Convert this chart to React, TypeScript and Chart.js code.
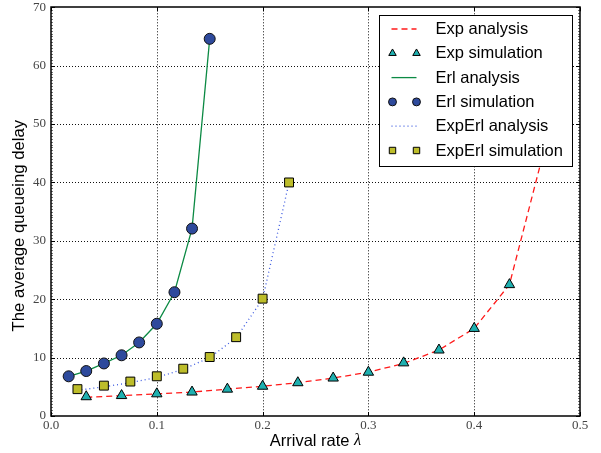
import React, { useEffect, useRef } from 'react';
import { Chart, registerables } from 'chart.js';
import { drawPoint } from 'chart.js/helpers';

Chart.register(...registerables);

// ---- data ----
const expX = [0.0333, 0.0667, 0.1, 0.1333, 0.1667, 0.2, 0.2333, 0.2667, 0.3, 0.3333, 0.3667, 0.4, 0.4333];
const expSim = [3.3, 3.5, 3.8, 4.1, 4.6, 5.1, 5.7, 6.5, 7.5, 9.1, 11.3, 15.0, 22.5];
const expAnaX = [0.0333, 0.0667, 0.1, 0.1333, 0.1667, 0.2, 0.2333, 0.2667, 0.3, 0.3333, 0.3667, 0.4, 0.4333, 0.4667];
const expAna = [3.2, 3.5, 3.8, 4.1, 4.6, 5.1, 5.7, 6.5, 7.5, 9.0, 11.3, 15.0, 22.5, 46.0];

const erlX = [0.0167, 0.0333, 0.05, 0.0667, 0.0833, 0.1, 0.1167, 0.1333, 0.15];
const erlSim = [6.8, 7.7, 9.0, 10.4, 12.6, 15.8, 21.2, 32.1, 64.6];
const erlAna = [6.8, 7.7, 9.0, 10.4, 12.6, 15.8, 21.2, 32.1, 64.6];

const expErlX = [0.025, 0.05, 0.075, 0.1, 0.125, 0.15, 0.175, 0.2, 0.225];
const expErlSim = [4.6, 5.2, 5.9, 6.8, 8.1, 10.1, 13.5, 20.1, 40.0];
const expErlAna = [4.4, 5.0, 5.7, 6.6, 8.0, 10.0, 13.4, 20.0, 40.0];

const seriesLabels = ['Exp analysis', 'Exp simulation', 'Erl analysis', 'Erl simulation', 'ExpErl analysis', 'ExpErl simulation'];
const xTitle = 'Arrival rate ';
const xTitleSymbol = 'λ';
const yTitle = 'The average queueing delay';

const xMin = 0, xMax = 0.5, xStep = 0.1;
const yMin = 0, yMax = 70, yStep = 10, yMinorStep = 0.5;

const pts = (xs: number[], ys: number[]) => xs.map((x, i) => ({ x, y: ys[i] }));

const SANS = "'Liberation Sans', Arial, sans-serif";
const SERIF = "'Liberation Serif', 'Times New Roman', serif";

const decorPlugin = {
  id: 'decor',
  beforeDatasetsDraw(chart: any) {
    const { ctx, chartArea: a, scales } = chart;
    const x = scales.x, y = scales.y;
    ctx.save();
    ctx.strokeStyle = '#111';
    ctx.lineWidth = 1;
    ctx.setLineDash([1, 2]);
    x.ticks.forEach((t: any) => {
      if (t.value <= xMin || t.value >= xMax) return;
      const px = Math.round(x.getPixelForValue(t.value)) + 0.5;
      ctx.beginPath(); ctx.moveTo(px, a.top); ctx.lineTo(px, a.bottom); ctx.stroke();
    });
    y.ticks.forEach((t: any) => {
      if (t.value <= yMin || t.value >= yMax) return;
      const py = Math.round(y.getPixelForValue(t.value)) + 0.5;
      ctx.beginPath(); ctx.moveTo(a.left, py); ctx.lineTo(a.right, py); ctx.stroke();
    });
    ctx.restore();
  },
  afterDraw(chart: any) {
    const { ctx, chartArea: a, scales } = chart;
    const x = scales.x, y = scales.y;
    ctx.save();
    ctx.setLineDash([]);
    // minor ticks on y (left/right)
    ctx.strokeStyle = '#555';
    ctx.lineWidth = 0.8;
    for (let v = yMin; v <= yMax + 1e-9; v += yMinorStep) {
      const py = Math.round(y.getPixelForValue(v)) + 0.5;
      ctx.beginPath();
      ctx.moveTo(a.left, py); ctx.lineTo(a.left + 2, py);
      ctx.moveTo(a.right, py); ctx.lineTo(a.right - 2, py);
      ctx.stroke();
    }
    // major ticks inward
    ctx.strokeStyle = '#000';
    ctx.lineWidth = 1;
    x.ticks.forEach((t: any) => {
      const px = Math.round(x.getPixelForValue(t.value)) + 0.5;
      ctx.beginPath();
      ctx.moveTo(px, a.bottom); ctx.lineTo(px, a.bottom - 4);
      ctx.moveTo(px, a.top); ctx.lineTo(px, a.top + 4);
      ctx.stroke();
    });
    y.ticks.forEach((t: any) => {
      const py = Math.round(y.getPixelForValue(t.value)) + 0.5;
      ctx.beginPath();
      ctx.moveTo(a.left, py); ctx.lineTo(a.left + 4, py);
      ctx.moveTo(a.right, py); ctx.lineTo(a.right - 4, py);
      ctx.stroke();
    });
    // frame
    ctx.lineWidth = 1.5;
    ctx.strokeStyle = '#000';
    ctx.strokeRect(Math.round(a.left), Math.round(a.top), Math.round(a.right - a.left), Math.round(a.bottom - a.top));

    // legend
    const bw = 193, bh = 151;
    const bl = Math.round(a.right - 8 - bw) + 0.5;
    const bt = Math.round(a.top + 8) + 0.5;
    ctx.fillStyle = '#fff';
    ctx.fillRect(bl, bt, bw, bh);
    ctx.lineWidth = 1;
    ctx.strokeStyle = '#000';
    ctx.strokeRect(bl, bt, bw, bh);
    ctx.font = `16.5px ${SANS}`;
    ctx.textBaseline = 'middle';
    ctx.textAlign = 'left';
    chart.data.datasets.forEach((ds: any, i: number) => {
      const ry = bt + 13.5 + i * 24.3;
      if (ds.showLine && !ds.pointRadius) {
        ctx.save();
        ctx.strokeStyle = ds.borderColor;
        ctx.lineWidth = ds.borderWidth;
        ctx.setLineDash(ds.borderDash || []);
        ctx.beginPath(); ctx.moveTo(bl + 12, ry); ctx.lineTo(bl + 37, ry); ctx.stroke();
        ctx.restore();
      } else {
        ctx.save();
        ctx.fillStyle = ds.backgroundColor;
        ctx.strokeStyle = ds.borderColor;
        ctx.lineWidth = ds.borderWidth;
        [bl + 13, bl + 37].forEach((mx) => {
          drawPoint(ctx, { pointStyle: ds.pointStyle, rotation: 0, radius: ds.pointRadius * 0.72, borderWidth: ds.borderWidth } as any, mx, ry);
        });
        ctx.restore();
      }
      ctx.fillStyle = '#000';
      ctx.fillText(ds.label, bl + 56, ry + 0.5);
    });

    // axis titles
    ctx.fillStyle = '#000';
    ctx.textBaseline = 'middle';
    const f1 = `16.5px ${SANS}`;
    const f2 = `italic 16.5px ${SERIF}`;
    ctx.font = f1;
    const w1 = ctx.measureText(xTitle).width;
    ctx.font = f2;
    const w2 = ctx.measureText(xTitleSymbol).width;
    const cx = (a.left + a.right) / 2;
    const sx = cx - (w1 + w2) / 2;
    ctx.textAlign = 'left';
    ctx.font = f1;
    ctx.fillText(xTitle, sx, 441);
    ctx.font = f2;
    ctx.fillText(xTitleSymbol, sx + w1, 441);

    ctx.save();
    ctx.translate(19, (a.top + a.bottom) / 2 + 14);
    ctx.rotate(-Math.PI / 2);
    ctx.font = `16.7px ${SANS}`;
    ctx.textAlign = 'center';
    ctx.fillText(yTitle, 0, 0);
    ctx.restore();

    ctx.restore();
  },
};

export default function App() {
  const ref = useRef<HTMLCanvasElement>(null);
  useEffect(() => {
    document.body.style.margin = '0';
    const canvas = ref.current!;
    const chart = new Chart(canvas, {
      type: 'scatter',
      data: {
        datasets: [
          {
            label: seriesLabels[0], data: pts(expAnaX, expAna), showLine: true,
            borderColor: '#ff1a1a', borderWidth: 1.3, borderDash: [6, 4], pointRadius: 0, order: 6,
          },
          {
            label: seriesLabels[1], data: pts(expX, expSim), showLine: false,
            pointStyle: 'triangle', pointRadius: 6, backgroundColor: '#1fb0b0', borderColor: '#000', borderWidth: 1, order: 5,
          },
          {
            label: seriesLabels[2], data: pts(erlX, erlAna), showLine: true,
            borderColor: '#0c8a44', borderWidth: 1.3, pointRadius: 0, order: 4,
          },
          {
            label: seriesLabels[3], data: pts(erlX, erlSim), showLine: false,
            pointStyle: 'circle', pointRadius: 5.5, backgroundColor: '#2e4a9c', borderColor: '#111', borderWidth: 1, order: 3,
          },
          {
            label: seriesLabels[4], data: pts(expErlX, expErlAna), showLine: true,
            borderColor: '#3a58e0', borderWidth: 1.3, borderDash: [1, 3], pointRadius: 0, order: 2,
          },
          {
            label: seriesLabels[5], data: pts(expErlX, expErlSim), showLine: false,
            pointStyle: 'rect', pointRadius: 6.3, backgroundColor: '#bdbd2a', borderColor: '#000', borderWidth: 1, order: 1,
          },
        ] as any,
      },
      options: {
        animation: false,
        responsive: false,
        layout: { padding: { left: 0, right: 21, top: 5, bottom: 0 } },
        plugins: { legend: { display: false }, tooltip: { enabled: false } },
        scales: {
          x: {
            type: 'linear', min: xMin, max: xMax,
            ticks: {
              stepSize: xStep, maxRotation: 0, padding: 2, color: '#444',
              font: { family: SERIF, size: 13 },
              callback: (v: any) => Number(v).toFixed(1),
            },
            grid: { display: false, drawTicks: false },
            border: { display: false },
            afterFit: (s: any) => { s.height = 37; s.paddingLeft = 0; s.paddingRight = 0; },
          },
          y: {
            type: 'linear', min: yMin, max: yMax,
            ticks: {
              stepSize: yStep, padding: 5, color: '#444',
              font: { family: SERIF, size: 13 },
              callback: (v: any) => String(v),
            },
            grid: { display: false, drawTicks: false },
            border: { display: false },
            afterFit: (s: any) => { s.width = 51; s.paddingTop = 0; s.paddingBottom = 0; },
          },
        },
      } as any,
      plugins: [decorPlugin],
    });
    return () => chart.destroy();
  }, []);
  return <canvas ref={ref} width={601} height={453} style={{ display: 'block', width: 601, height: 453 }} />;
}
